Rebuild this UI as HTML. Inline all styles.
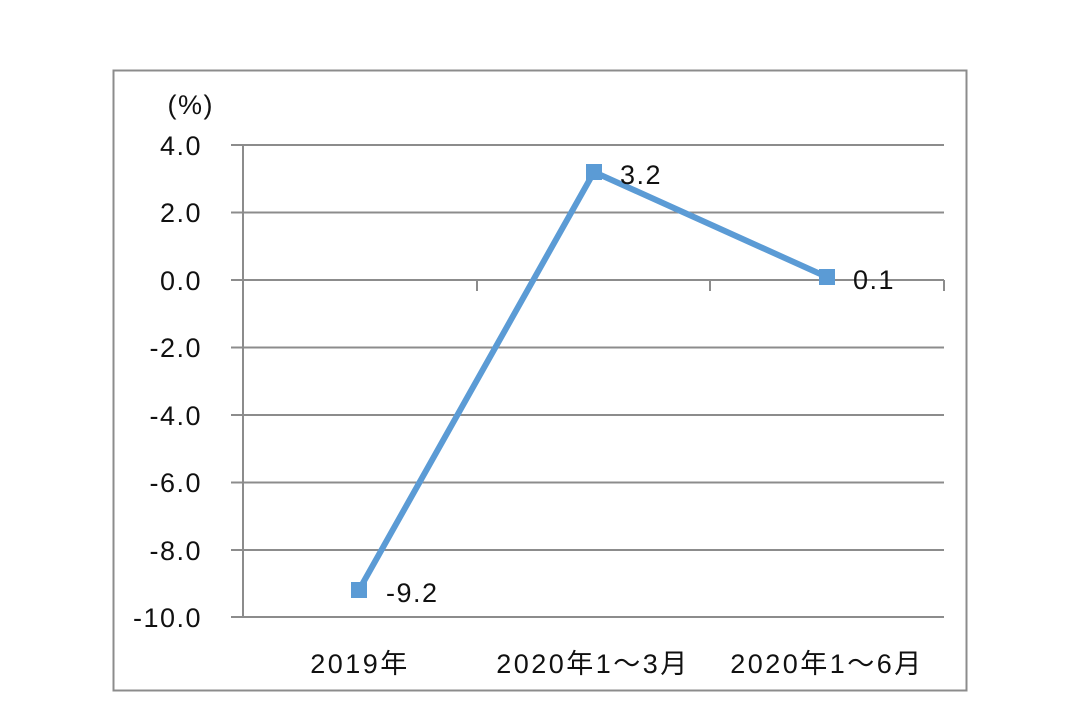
<!DOCTYPE html>
<html><head><style>body{margin:0;background:#fff}</style></head><body>
<svg width="1080" height="705" xmlns="http://www.w3.org/2000/svg" font-family="'Liberation Sans','Noto Sans CJK SC',sans-serif">
<rect x="113.5" y="70.5" width="853" height="620" fill="#fff" stroke="#8c8c8c" stroke-width="2"/>
<g stroke="#8c8c8c" stroke-width="2">
<line x1="231" y1="145" x2="944" y2="145"/>
<line x1="231" y1="212.5" x2="944" y2="212.5"/>
<line x1="231" y1="280" x2="944" y2="280"/>
<line x1="231" y1="347.5" x2="944" y2="347.5"/>
<line x1="231" y1="415" x2="944" y2="415"/>
<line x1="231" y1="482.5" x2="944" y2="482.5"/>
<line x1="231" y1="550" x2="944" y2="550"/>
<line x1="231" y1="617" x2="944" y2="617"/>
<line x1="243" y1="145" x2="243" y2="617"/>
<line x1="477" y1="280" x2="477" y2="291"/>
<line x1="710" y1="280" x2="710" y2="291"/>
<line x1="944" y1="280" x2="944" y2="291"/>
</g>
<g font-size="27" fill="#111" text-anchor="end" letter-spacing="1.5">
<text x="214" y="114">(%)</text>
<text x="202" y="155">4.0</text>
<text x="202" y="222">2.0</text>
<text x="202" y="290">0.0</text>
<text x="202" y="357">-2.0</text>
<text x="202" y="425">-4.0</text>
<text x="202" y="492">-6.0</text>
<text x="202" y="560">-8.0</text>
<text x="202" y="627">-10.0</text>
</g>
<polyline points="359,590 594,172 827,277" fill="none" stroke="#5b9bd5" stroke-width="6"/>
<g fill="#5b9bd5">
<rect x="351" y="582" width="16" height="16"/>
<rect x="586" y="164" width="16" height="16"/>
<rect x="819" y="269" width="16" height="16"/>
</g>
<g font-size="27" fill="#111" letter-spacing="1.5">
<text x="386" y="602">-9.2</text>
<text x="620" y="184">3.2</text>
<text x="853" y="289">0.1</text>
</g>
<g font-size="27" fill="#111" text-anchor="middle" letter-spacing="2.5">
<text x="360" y="673">2019年</text>
<text x="593" y="673">2020年1～3月</text>
<text x="827" y="673">2020年1～6月</text>
</g>
</svg>
</body></html>
